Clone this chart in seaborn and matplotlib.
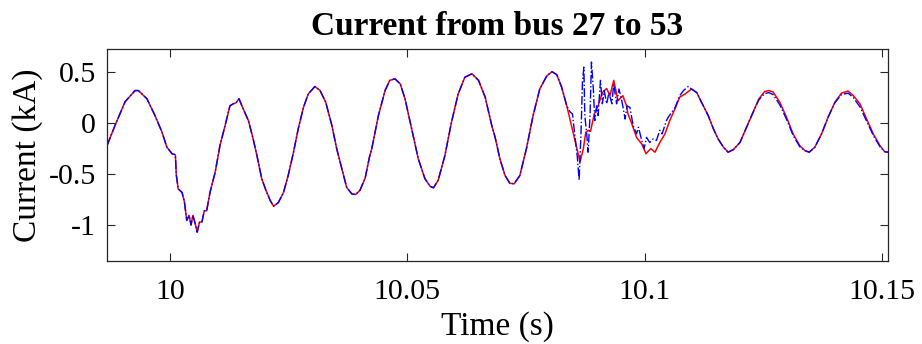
import numpy as np
import pandas as pd
import matplotlib
matplotlib.use("Agg")
import matplotlib.pyplot as plt
import seaborn as sns

# ---- data (time in s, current in kA) ----
red_t = [9.9867, 9.9884, 9.9905, 9.9926, 9.9933, 9.9951, 9.9968, 9.9983, 9.9993,
         10.0004, 10.0011, 10.0013, 10.0017, 10.0025, 10.0030, 10.0035, 10.0040,
         10.0044, 10.0048, 10.0053, 10.0057, 10.0062, 10.0067, 10.0072, 10.0077,
         10.0084, 10.0095, 10.0105, 10.0116, 10.0126, 10.0133, 10.0139, 10.0145,
         10.0154, 10.0165, 10.0175, 10.0183, 10.0193, 10.0202, 10.0211, 10.0218,
         10.0228, 10.0239, 10.0249, 10.0260, 10.0270, 10.0281, 10.0291, 10.0305,
         10.0316, 10.0328, 10.0341, 10.0351, 10.0362, 10.0372, 10.0383, 10.0391,
         10.0400, 10.0411, 10.0420, 10.0425, 10.0439, 10.0453, 10.0463, 10.0474,
         10.0485, 10.0495, 10.0509, 10.0523, 10.0537, 10.0548, 10.0555, 10.0565,
         10.0579, 10.0593, 10.0607, 10.0621, 10.0636, 10.0650, 10.0664, 10.0678,
         10.0685, 10.0695, 10.0706, 10.0716, 10.0725, 10.0737, 10.0751, 10.0765,
         10.0779, 10.0794, 10.0805, 10.0815, 10.0825, 10.0836, 10.0846, 10.0857,
         10.0864, 10.0871, 10.0876, 10.0881, 10.0886, 10.0894, 10.0902, 10.0911,
         10.0920, 10.0927, 10.0935, 10.0944, 10.0954, 10.0962, 10.0965, 10.0973,
         10.0983, 10.0994, 10.1003, 10.1013, 10.1022, 10.1032, 10.1043, 10.1053,
         10.1064, 10.1074, 10.1085, 10.1099, 10.1110, 10.1120, 10.1134, 10.1145,
         10.1155, 10.1166, 10.1176, 10.1187, 10.1201, 10.1215, 10.1229, 10.1241,
         10.1253, 10.1262, 10.1271, 10.1285, 10.1299, 10.1313, 10.1327, 10.1338,
         10.1347, 10.1359, 10.1373, 10.1387, 10.1401, 10.1415, 10.1429, 10.1440,
         10.1454, 10.1468, 10.1482, 10.1496, 10.1506, 10.1513]
red_v = [-0.22, -0.02, 0.21, 0.32, 0.32, 0.24, 0.075, -0.09, -0.235,
         -0.30, -0.31, -0.51, -0.645, -0.68, -0.77, -0.955, -0.905,
         -1.00, -0.905, -0.99, -1.07, -0.97, -0.97, -0.86, -0.86,
         -0.68, -0.48, -0.22, -0.02, 0.17, 0.19, 0.20, 0.24,
         0.14, 0.025, -0.155, -0.32, -0.545, -0.66, -0.76, -0.815,
         -0.78, -0.68, -0.51, -0.285, -0.055, 0.155, 0.285, 0.36,
         0.32, 0.205, -0.025, -0.25, -0.45, -0.63, -0.695, -0.70,
         -0.66, -0.54, -0.335, -0.25, 0.075, 0.32, 0.42, 0.435,
         0.385, 0.24, -0.055, -0.35, -0.545, -0.62, -0.635, -0.56,
         -0.32, 0.01, 0.285, 0.45, 0.485, 0.42, 0.255, -0.025,
         -0.14, -0.35, -0.515, -0.59, -0.595, -0.515, -0.25, 0.075,
         0.335, 0.465, 0.505, 0.475, 0.355, 0.17, -0.025, -0.235,
         -0.38, -0.25, -0.09, -0.07, -0.08, 0.09, 0.17, 0.30,
         0.34, 0.27, 0.42, 0.22, 0.27, 0.17, 0.09, -0.005,
         -0.14, -0.205, -0.30, -0.25, -0.285, -0.19, -0.105, 0.025,
         0.14, 0.255, 0.285, 0.335, 0.30, 0.205, 0.075, -0.055,
         -0.155, -0.235, -0.285, -0.26, -0.19, -0.04, 0.11, 0.24,
         0.31, 0.32, 0.305, 0.205, 0.06, -0.105, -0.22, -0.27,
         -0.285, -0.235, -0.105, 0.06, 0.205, 0.295, 0.315, 0.27,
         0.19, 0.04, -0.105, -0.22, -0.28, -0.285]

# blue trace: differs from red during the disturbance and in the last cycles
blue_dist_t = [10.0843, 10.0848, 10.0853, 10.0858, 10.0862, 10.0866, 10.0869, 10.0872,
               10.0874, 10.0878, 10.0881, 10.0885, 10.0888, 10.0892, 10.0895, 10.0899,
               10.0902, 10.0907, 10.0911, 10.0915, 10.0920, 10.0925, 10.0931, 10.0935,
               10.0941, 10.0946, 10.0952, 10.0959, 10.0963, 10.0969, 10.0976, 10.0983,
               10.0987, 10.0994, 10.0999, 10.1004, 10.1011, 10.1018, 10.1025, 10.1032,
               10.1037, 10.1046, 10.1050, 10.1064, 10.1074, 10.1082, 10.1092, 10.1099,
               10.1110]
blue_dist_v = [0.11, 0.09, -0.12, -0.32, -0.56, -0.09, 0.40, 0.55,
               0.075, -0.105, -0.285, 0.075, 0.60, 0.335, 0.025, 0.17,
               0.075, 0.42, 0.19, 0.32, 0.19, 0.30, 0.19, 0.385,
               0.19, 0.335, 0.22, 0.04, 0.17, 0.155, -0.025, -0.105,
               -0.04, -0.17, -0.25, -0.14, -0.19, -0.155, -0.17, -0.07,
               -0.105, 0.025, 0.06, 0.15, 0.27, 0.32, 0.36, 0.335,
               0.30]
blue_tail_t = [10.1241, 10.1253, 10.1262, 10.1271, 10.1285, 10.1299, 10.1313, 10.1327,
               10.1338, 10.1347, 10.1359, 10.1373, 10.1387, 10.1401, 10.1415, 10.1429,
               10.1440, 10.1454, 10.1468, 10.1482, 10.1496, 10.1506, 10.1513]
blue_tail_v = [0.23, 0.29, 0.30, 0.28, 0.18, 0.04, -0.12, -0.23,
               -0.27, -0.285, -0.235, -0.105, 0.06, 0.20, 0.28, 0.295,
               0.25, 0.16, 0.02, -0.12, -0.23, -0.28, -0.285]

xticks = [10, 10.05, 10.1, 10.15]
xtick_labels = ["10", "10.05", "10.1", "10.15"]
yticks = [-1, -0.5, 0, 0.5]
ytick_labels = ["-1", "-0.5", "0", "0.5"]

# ---- assemble blue trace from pieces ----
blue_t, blue_v = [], []
for t, v in zip(red_t, red_v):
    if t <= 10.0836:
        blue_t.append(t); blue_v.append(v)
blue_t += blue_dist_t; blue_v += blue_dist_v
for t, v in zip(red_t, red_v):
    if 10.1110 < t < 10.1241:
        blue_t.append(t); blue_v.append(v)
blue_t += blue_tail_t; blue_v += blue_tail_v

df_red = pd.DataFrame({"t": red_t, "v": red_v})
df_blue = pd.DataFrame({"t": blue_t, "v": blue_v})

sns.set_style("ticks")
plt.rcParams["font.family"] = ["Liberation Serif", "DejaVu Serif"]
plt.rcParams["text.color"] = "black"
plt.rcParams["axes.labelcolor"] = "black"

fig = plt.figure(figsize=(9.22, 3.44), dpi=100)
ax = fig.add_axes([0.1161, 0.2413, 0.847, 0.6163])

sns.lineplot(data=df_red, x="t", y="v", ax=ax, color="#ff0000", lw=1.1,
             sort=False, estimator=None)
sns.lineplot(data=df_blue, x="t", y="v", ax=ax, color="#0000ff", lw=1.0,
             linestyle="-.", sort=False, estimator=None)

ax.set_xlim(9.9867, 10.1513)
ax.set_ylim(-1.353, 0.728)
ax.set_xticks(xticks)
ax.set_xticklabels(xtick_labels)
ax.set_yticks(yticks)
ax.set_yticklabels(ytick_labels)

ax.tick_params(direction="in", top=True, right=True, length=5.8, width=0.8,
               color="#262626", labelsize=21.5, labelcolor="black")
ax.tick_params(axis="x", pad=13)
ax.tick_params(axis="y", pad=8)
for s in ax.spines.values():
    s.set_visible(True)
    s.set_linewidth(0.9)
    s.set_color("#262626")

ax.set_xlabel("Time (s)", fontsize=24, labelpad=4.5, color="black")
ax.set_ylabel("Current (kA)", fontsize=24, labelpad=4, color="black")
ax.set_title("Current from bus 27 to 53", fontsize=24, fontweight="bold", pad=10,
             color="black")

fig.savefig("out.png", dpi=100)
